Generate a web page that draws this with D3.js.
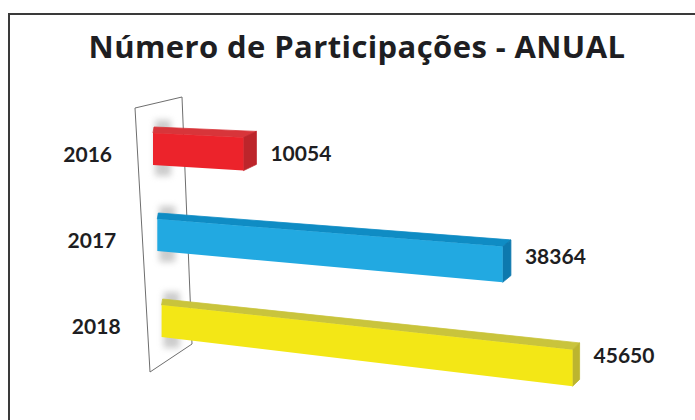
<!DOCTYPE html>
<html>
<head>
<meta charset="utf-8">
<script src="https://d3js.org/d3.v7.min.js"></script>
<style>
  body { margin: 0; background: #fff; }
  text { font-family: Lato, "Open Sans", sans-serif; font-weight: bold; fill: #1e1e22; }
  text.title { font-family: "Open Sans", sans-serif; letter-spacing: 0.4px; }
</style>
</head>
<body>
<script>
// data
var years = ["2016", "2017", "2018"];
var participations = [10054, 38364, 45650];
var frontColors = ["#ec232b", "#22a9e1", "#f3e716"];
var topColors = ["#d8353a", "#0f8cc4", "#c9c43c"];
var sideColors = ["#bd252b", "#0d79ae", "#bcb52f"];

var W = 695, H = 420;
var svg = d3.select("body").append("svg").attr("width", W).attr("height", H);

// outer frame
svg.append("rect")
  .attr("x", 9).attr("y", 14).attr("width", 720).attr("height", 440)
  .attr("fill", "#fff").attr("stroke", "#3a3a3a").attr("stroke-width", 2);

// title
svg.append("text")
  .attr("class", "title")
  .attr("x", 357).attr("y", 58)
  .attr("text-anchor", "middle")
  .style("font-size", "31px")
  .text("Número de Participações - ANUAL");

// perspective: lines along the value axis run to a far vanishing point
var VX = -2786, VY = -16;
function persp(yLeft, xLeft, xs) {
  return VY + (yLeft - VY) * (xs - VX) / (xLeft - VX);
}

var y = d3.scaleBand().domain(years).range([133, 337]).paddingInner(0.628);
var x = d3.scaleLinear().domain([0, d3.max(participations)]).range([0, 411]);
function rowLeft(yy) { return 153 + 0.05 * (yy - 133); }
function sideDepth(xs) { return 0.018 * (960 - xs); }

// back wall
var wall = [[135, 108], [182, 97], [192, 344], [150, 372]];
svg.append("polygon")
  .attr("points", wall.map(function(p) { return p.join(","); }).join(" "))
  .attr("fill", "#fff").attr("stroke", "#6e6e6e").attr("stroke-width", 1);

var defs = svg.append("defs");
defs.append("filter").attr("id", "blur")
  .attr("x", "-50%").attr("y", "-50%").attr("width", "200%").attr("height", "200%")
  .append("feGaussianBlur").attr("stdDeviation", 3);

var rows = years.map(function(yr, i) {
  var yT = y(yr), yB = y(yr) + y.bandwidth();
  var xL = rowLeft(yT);
  var xR = xL + x(participations[i]);
  return {
    year: yr, value: participations[i], i: i,
    yT: yT, yB: yB, xL: xL, xR: xR,
    yTR: persp(yT, xL, xR), yBR: persp(yB, xL, xR),
    t: 6 * (xR - VX) / (xL - VX), dx: sideDepth(xR)
  };
});

// wall shadows
svg.selectAll(".shadow").data(rows).enter().append("rect")
  .attr("class", "shadow")
  .attr("x", function(d) { return d.xL + 2; })
  .attr("y", function(d) { return d.yT - 13; })
  .attr("width", 16)
  .attr("height", function(d) { return d.yB - d.yT + 24; })
  .attr("fill", "#9a9a9a").attr("opacity", 0.5)
  .attr("filter", "url(#blur)");

var bars = svg.selectAll(".bar").data(rows).enter().append("g").attr("class", "bar");

function pts(a) { return a.map(function(p) { return p[0].toFixed(1) + "," + p[1].toFixed(1); }).join(" "); }

// top face
bars.append("polygon")
  .attr("points", function(d) {
    return pts([[d.xL, d.yT], [d.xR, d.yTR], [d.xR + d.dx, d.yTR - d.t], [d.xL + 1, d.yT - 6]]);
  })
  .attr("fill", function(d) { return topColors[d.i]; })
  .attr("stroke", function(d) { return topColors[d.i]; }).attr("stroke-width", 0.8)
  .attr("stroke-linejoin", "round");

// right end face
bars.append("polygon")
  .attr("points", function(d) {
    return pts([[d.xR, d.yTR], [d.xR + d.dx, d.yTR - d.t], [d.xR + d.dx, d.yBR - d.t], [d.xR, d.yBR]]);
  })
  .attr("fill", function(d) { return sideColors[d.i]; })
  .attr("stroke", function(d) { return sideColors[d.i]; }).attr("stroke-width", 0.8)
  .attr("stroke-linejoin", "round");

// front face
bars.append("polygon")
  .attr("points", function(d) {
    return pts([[d.xL, d.yT], [d.xR, d.yTR], [d.xR, d.yBR], [d.xL, d.yB]]);
  })
  .attr("fill", function(d) { return frontColors[d.i]; });

// year labels
svg.selectAll(".year").data(rows).enter().append("text")
  .attr("class", "year")
  .attr("x", function(d) { return d.xL - 41; })
  .attr("y", function(d) { return (d.yT + d.yB) / 2 + 6; })
  .attr("dy", "0.35em")
  .attr("text-anchor", "end")
  .style("font-size", "21px")
  .text(function(d) { return d.year; });

// value labels
svg.selectAll(".val").data(rows).enter().append("text")
  .attr("class", "val")
  .attr("x", function(d) { return d.xR + d.dx + 14; })
  .attr("y", function(d) {
    var lx = d.xR + d.dx + 14, mid = (d.yT + d.yB) / 2;
    return mid + 0.7 * (persp(mid, d.xL, lx) - mid);
  })
  .attr("dy", "0.35em")
  .style("font-size", "21px")
  .text(function(d) { return d.value; });
</script>
</body>
</html>
